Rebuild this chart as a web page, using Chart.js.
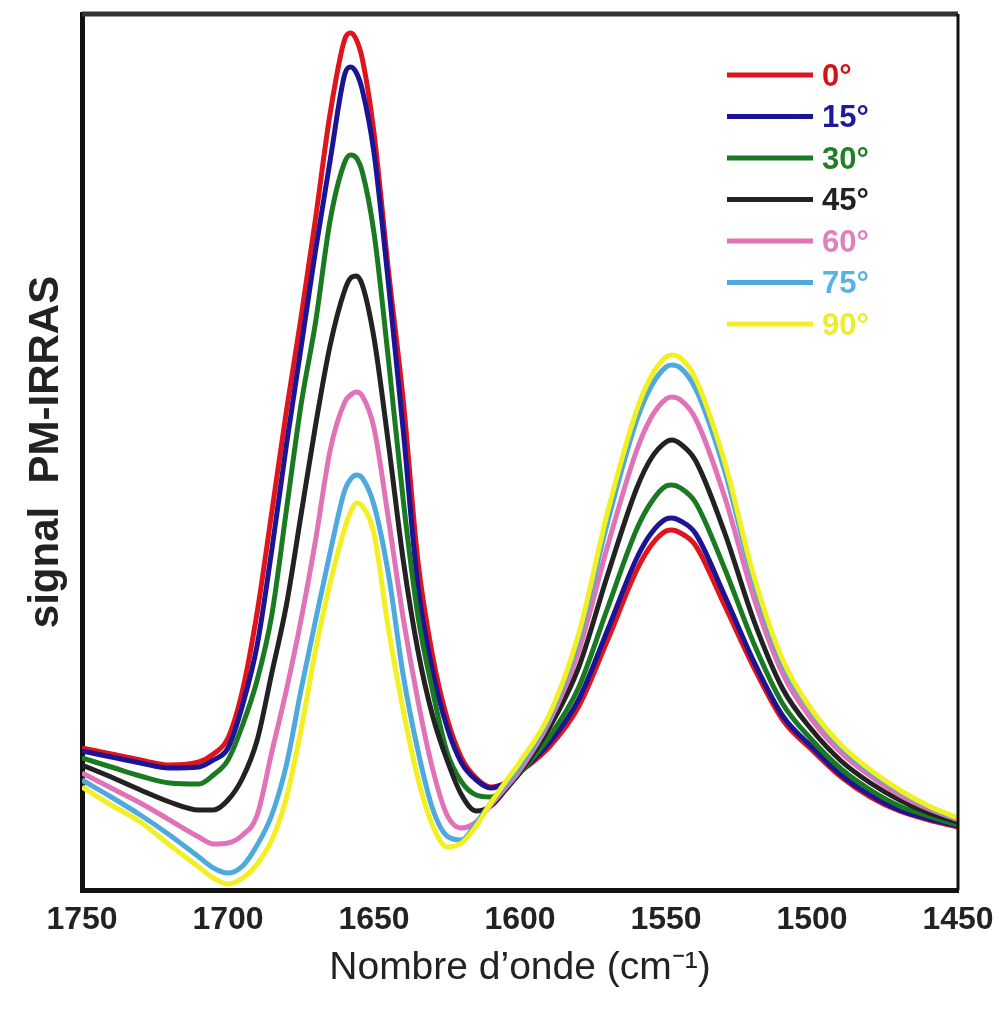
<!DOCTYPE html>
<html>
<head>
<meta charset="utf-8">
<script src="https://cdn.jsdelivr.net/npm/chart.js@4.4.1/dist/chart.umd.min.js"></script>
<style>
  html, body { margin: 0; padding: 0; background: #fff; }
  #wrap { width: 999px; height: 1012px; }
</style>
</head>
<body>
<div id="wrap"><canvas id="grafico"></canvas></div>
<script>
// nombre d'onde (cm-1), axe inversé
const nombresOnde = [1750, 1740, 1730, 1720, 1710, 1705, 1700, 1695, 1690, 1685, 1680, 1675, 1670, 1665,
  1660, 1658, 1656, 1654, 1650, 1645, 1640, 1635, 1630, 1625, 1620, 1615, 1610, 1605, 1600,
  1590, 1580, 1570, 1560, 1555, 1550, 1548, 1545, 1540, 1530, 1520, 1510, 1500, 1490, 1480,
  1470, 1460, 1450];

// signal PM-IRRAS (u.a.) pour chaque angle
const signal0 = [142, 136, 130, 125, 128, 136, 152, 200, 278, 378, 479, 572, 672, 777,
  851, 857, 850, 831, 757, 618, 490, 330, 235, 172, 132, 112, 103, 107, 118,
  143, 183, 250, 320, 345, 359, 360, 357, 345, 285, 223, 170, 140, 113, 93,
  79, 70, 63];
const signal15 = [139, 133, 127, 122, 123, 130, 142, 185, 245, 340, 445, 542, 640, 730,
  816, 823, 817, 800, 737, 605, 460, 305, 220, 163, 127, 110, 102, 107, 118,
  147, 190, 260, 332, 357, 371, 372, 369, 357, 295, 229, 174, 143, 115, 95,
  80, 71, 64];
const signal30 = [132, 123, 114, 107, 106, 115, 130, 165, 210, 275, 380, 485, 568, 670,
  728, 735, 732, 718, 657, 529, 390, 275, 200, 138, 108, 95, 93, 102, 117,
  153, 202, 282, 361, 388, 404, 405, 402, 388, 322, 247, 186, 150, 121, 100,
  84, 74, 65];
const signal45 = [125, 113, 100, 88, 80, 80, 90, 112, 150, 217, 285, 375, 465, 545,
  600, 612, 614, 605, 552, 445, 330, 240, 175, 130, 95, 79, 84, 100, 118,
  162, 222, 315, 402, 432, 448, 450, 446, 430, 358, 270, 201, 160, 129, 107,
  90, 77, 68];
const signal60 = [117, 102, 87, 70, 53, 46, 47, 55, 75, 138, 200, 270, 350, 440,
  488, 495, 498, 494, 462, 370, 272, 190, 122, 75, 62, 68, 85, 102, 120,
  168, 238, 344, 440, 473, 491, 493, 490, 472, 394, 293, 216, 170, 137, 114,
  95, 81, 70];
const signal75 = [110, 93, 75, 55, 33, 22, 17, 24, 45, 75, 125, 200, 270, 338,
  400, 411, 415, 412, 385, 315, 215, 140, 82, 54, 50, 67, 87, 105, 124,
  172, 250, 368, 470, 504, 523, 525, 522, 502, 420, 309, 226, 178, 143, 118,
  99, 83, 71];
const signal90 = [103, 85, 68, 45, 23, 12, 6, 12, 26, 50, 92, 160, 240, 307,
  362, 378, 387, 384, 356, 260, 180, 112, 65, 43, 47, 64, 87, 108, 128,
  175, 255, 378, 480, 514, 533, 535, 532, 512, 429, 315, 230, 180, 145, 120,
  100, 84, 72];

const angles = ['0°', '15°', '30°', '45°', '60°', '75°', '90°'];
const series = [signal0, signal15, signal30, signal45, signal60, signal75, signal90];
const couleurs = ['#e0141c', '#1c1496', '#1a7a22', '#222222', '#e072b8', '#4eaadc', '#f2ef22'];
const couleursTexte = ['#d41414', '#1e1a9c', '#237f25', '#222222', '#e27fbf', '#5ab2e2', '#f0ec2c'];

const FONT = "'Liberation Sans', Arial, sans-serif";

const datasets = series.map((valeurs, i) => ({
  label: angles[i],
  data: nombresOnde.map((w, j) => ({ x: w, y: valeurs[j] })),
  borderColor: couleurs[i],
  borderWidth: 5,
  pointRadius: 0,
  cubicInterpolationMode: 'monotone',
  fill: false,
  order: series.length - i
}));

// légende et cadre (haut, droite)
const legendeCadre = {
  id: 'legendeCadre',
  afterDatasetsDraw(chart) {
    const { ctx, chartArea } = chart;
    ctx.save();
    ctx.lineCap = 'butt';
    ctx.strokeStyle = '#333';
    ctx.lineWidth = 5;
    ctx.beginPath();
    ctx.moveTo(chartArea.left, chartArea.top);
    ctx.lineTo(chartArea.right, chartArea.top);
    ctx.stroke();
    ctx.strokeStyle = '#111';
    ctx.lineWidth = 3;
    ctx.beginPath();
    ctx.moveTo(chartArea.right, chartArea.top);
    ctx.lineTo(chartArea.right, chartArea.bottom);
    ctx.stroke();

    const x0 = chartArea.right - 231;
    ctx.font = 'bold 31px ' + FONT;
    ctx.textBaseline = 'middle';
    chart.data.datasets.forEach((ds, i) => {
      const y = chartArea.top + 61 + i * 41.5;
      ctx.strokeStyle = ds.borderColor;
      ctx.lineWidth = 5;
      ctx.beginPath();
      ctx.moveTo(x0, y);
      ctx.lineTo(x0 + 86, y);
      ctx.stroke();
      ctx.fillStyle = couleursTexte[i];
      ctx.fillText(ds.label, x0 + 95, y + 2);
    });
    ctx.restore();
  }
};

new Chart(document.getElementById('grafico'), {
  type: 'line',
  data: { datasets },
  options: {
    responsive: true,
    maintainAspectRatio: false,
    animation: false,
    layout: { padding: { top: 14, right: 41, left: 0, bottom: 0 } },
    plugins: { legend: { display: false }, tooltip: { enabled: false } },
    scales: {
      x: {
        type: 'linear',
        reverse: true,
        min: 1450,
        max: 1750,
        afterFit: s => { s.height = 122; s.paddingRight = 0; s.paddingLeft = 0; },
        ticks: {
          stepSize: 50,
          padding: 11,
          color: '#222',
          font: { family: FONT, size: 32, weight: 'bold' },
          callback: v => String(v)
        },
        grid: { display: false, drawTicks: false },
        border: { display: true, color: '#111', width: 5 },
        title: {
          display: true,
          text: 'Nombre d’onde (cm⁻¹)',
          color: '#222',
          font: { family: FONT, size: 39 },
          padding: { top: 0, bottom: 20 }
        }
      },
      y: {
        min: 0,
        max: 876,
        afterFit: s => { s.width = 82; },
        ticks: { display: false },
        grid: { display: false, drawTicks: false },
        border: { display: true, color: '#111', width: 5 },
        title: {
          display: true,
          text: 'signal  PM-IRRAS',
          color: '#222',
          font: { family: FONT, size: 42, weight: 'bold' },
          padding: { top: 21, bottom: 0 }
        }
      }
    }
  },
  plugins: [legendeCadre]
});
</script>
</body>
</html>
